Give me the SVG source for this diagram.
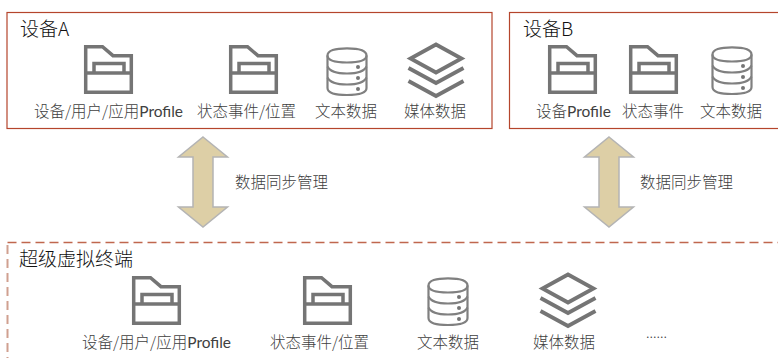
<svg xmlns="http://www.w3.org/2000/svg" width="778" height="358" viewBox="0 0 778 358">
<style>
text{font-family:"Noto Sans CJK SC","Noto Sans",sans-serif;font-weight:300}
.t{font-size:19px;fill:#111}
.l{font-size:15.5px;fill:#404040}
.p{font-family:Lato,"Noto Sans",sans-serif;font-weight:400;font-size:15.5px;fill:#404040}
.box{fill:#fff;stroke:#B5452C;stroke-width:1.2}
.dash{fill:none;stroke:#C0674E;stroke-width:1.5;stroke-dasharray:9 5}
.dsh2{fill:none;stroke:#D0A090;stroke-width:2;stroke-dasharray:9 5}
.ic{fill:none;stroke:#757575;stroke-width:3.5}
.ic2{fill:none;stroke:#808080;stroke-width:2.2}
.dot{fill:#757575}
.ar{fill:#DDCFA6;stroke:#B4B4B4;stroke-width:1.5}
</style>
<defs>
<symbol id="folder" width="50" height="50" viewBox="0 0 50 50" overflow="visible">
<path class="ic" d="M1.700 1.700H18.500L29 10.700H47.300V47.300H1.700Z"/>
<path class="ic" d="M1.700 28H47.300M10 28V18.500H40V28"/>
</symbol>
<symbol id="db" width="42" height="50" viewBox="0 0 42 50" overflow="visible">
<path class="ic2" d="M1.500 8.500C1.500 3.500 9 1.300 21 1.300S40.500 3.500 40.500 8.500V41C40.500 46 33 48 21 48S1.500 46 1.500 41Z"/>
<path class="ic2" d="M1.500 8.500C1.500 13.500 9 15.500 21 15.500S40.500 13.500 40.500 8.500M1.500 19.500C4 25 12 26.500 21 26.500S38 25 40.500 19.500M1.500 30.500C4 36 12 37.500 21 37.500S38 36 40.500 30.500"/>
<circle class="dot" cx="32" cy="20" r="2"/><circle class="dot" cx="32" cy="31" r="2"/><circle class="dot" cx="32" cy="42" r="2"/>
</symbol>
<symbol id="stack" width="58" height="56" viewBox="0 0 58 56" overflow="visible">
<path class="ic" d="M29 2.500L54.500 16.500L29 30.500L3.500 16.500Z" style="stroke-width:3.800"/>
<path class="ic" d="M1.500 26L29 41L56.500 26M1.500 39L29 54L56.500 39" style="stroke-width:3.800"/>
</symbol>
<path id="arrow" class="ar" d="M0 0L24.500 20H10V70H24.500L0 90L-24.500 70H-10V20H-24.500Z"/>
</defs>
<g id="device-a">
<rect class="box" x="7" y="12.500" width="485" height="116"/>
<text class="t" x="20" y="36">设备A</text>
<use href="#folder" x="84" y="45"/>
<use href="#folder" x="229" y="45"/>
<use href="#db" x="326" y="47"/>
<use href="#stack" x="407" y="42"/>
<text class="l" x="34" y="117">设备/用户/应用<tspan class="p">Profile</tspan></text>
<text class="l" x="197" y="117">状态事件/位置</text>
<text class="l" x="315" y="117">文本数据</text>
<text class="l" x="404" y="117">媒体数据</text>
</g>
<g id="device-b">
<rect class="box" x="509.500" y="12.500" width="280" height="116"/>
<text class="t" x="523" y="36">设备B</text>
<use href="#folder" x="548" y="45"/>
<use href="#folder" x="629" y="45"/>
<use href="#db" x="711" y="46"/>
<text class="l" x="536" y="117">设备<tspan class="p">Profile</tspan></text>
<text class="l" x="622" y="117">状态事件</text>
<text class="l" x="700" y="117">文本数据</text>
</g>
<g id="super-terminal">
<path class="dash" d="M7.500 242.500H778"/>
<path class="dsh2" d="M7.500 245V358"/>
<text class="t" x="19" y="266">超级虚拟终端</text>
<use href="#folder" x="132" y="276"/>
<use href="#folder" x="303" y="276"/>
<use href="#db" x="427" y="277"/>
<use href="#stack" x="539" y="272"/>
<text class="l" x="82" y="348">设备/用户/应用<tspan class="p">Profile</tspan></text>
<text class="l" x="270" y="348">状态事件/位置</text>
<text class="l" x="417" y="348">文本数据</text>
<text class="l" x="533" y="348">媒体数据</text>
<text class="l" x="646" y="338" style="font-size:14px">......</text>
</g>
<g id="connectors">
<use href="#arrow" x="203" y="137"/>
<use href="#arrow" x="609" y="137"/>
<text class="l" x="235" y="188">数据同步管理</text>
<text class="l" x="640" y="188">数据同步管理</text>
</g>
</svg>
